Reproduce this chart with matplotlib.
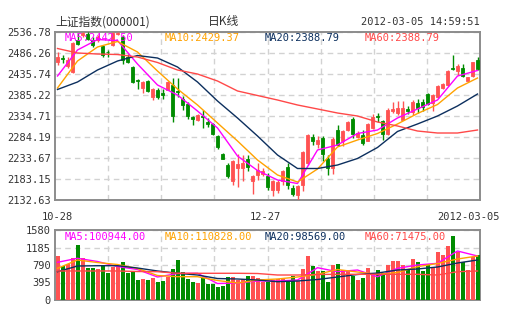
import matplotlib
matplotlib.use("Agg")
import matplotlib.pyplot as plt
import numpy as np

plt.rcParams['font.family'] = ['DejaVu Sans Mono', 'Noto Sans CJK SC']

# 日K线: 开 高 低 收 (2011-10-28 ~ 2012-03-05)
opens = [2465.3, 2473.5, 2453.8, 2441.7, 2517.5, 2529.6, 2533.0, 2517.5, 2518.7, 2501.9,
         2488.7, 2506.7, 2530.8, 2524.8, 2476.6, 2452.6, 2422.5, 2401.4, 2419.6, 2381.1,
         2397.3, 2389.3, 2398.0, 2410.0, 2394.9, 2376.3, 2363.6, 2331.6, 2325.8, 2334.0,
         2320.3, 2315.5, 2285.9, 2243.3, 2217.6, 2179.1, 2209.6, 2209.6, 2231.3, 2177.6,
         2193.5, 2195.2, 2189.7, 2157.4, 2157.4, 2177.6, 2211.3, 2161.5, 2145.4, 2169.4,
         2221.7, 2283.5, 2267.4, 2281.8, 2231.3, 2209.6, 2301.8, 2273.9, 2301.8, 2328.2,
         2284.9, 2289.0, 2275.3, 2305.1, 2335.4, 2322.0, 2291.4, 2346.0, 2341.9, 2325.8,
         2352.3, 2344.3, 2366.0, 2368.4, 2387.6, 2366.0, 2379.7, 2402.1, 2410.0, 2450.2,
         2443.7, 2450.2, 2419.6, 2430.2, 2470.1]
highs = [2489.4, 2481.4, 2477.8, 2512.7, 2535.0, 2536.0, 2536.78, 2524.8, 2529.6, 2505.5,
         2493.5, 2535.6, 2536.5, 2529.6, 2483.8, 2455.0, 2424.9, 2418.9, 2422.0, 2400.9,
         2401.4, 2399.7, 2418.9, 2426.1, 2426.1, 2382.1, 2368.4, 2334.7, 2339.5, 2349.9,
         2329.9, 2317.9, 2289.0, 2245.7, 2221.7, 2228.9, 2243.3, 2241.6, 2241.6, 2193.5,
         2221.7, 2209.6, 2197.6, 2180.8, 2181.5, 2205.5, 2221.7, 2169.4, 2168.7, 2251.2,
         2291.4, 2291.4, 2285.9, 2285.9, 2241.6, 2283.5, 2313.8, 2301.8, 2322.0, 2331.6,
         2298.6, 2301.8, 2317.9, 2339.5, 2341.9, 2325.1, 2354.0, 2368.4, 2370.1, 2371.5,
         2358.1, 2373.9, 2376.3, 2376.3, 2390.8, 2387.6, 2408.1, 2413.4, 2445.4, 2482.2,
         2459.8, 2459.8, 2429.3, 2465.3, 2475.9]
lows = [2457.4, 2461.5, 2450.2, 2438.1, 2505.5, 2524.8, 2517.0, 2500.7, 2512.7, 2476.6,
        2476.6, 2503.1, 2529.6, 2459.8, 2462.2, 2414.1, 2398.5, 2390.1, 2392.5, 2373.2,
        2374.9, 2375.6, 2396.1, 2320.3, 2381.1, 2349.9, 2328.2, 2312.4, 2322.0, 2305.9,
        2307.5, 2289.0, 2255.3, 2230.1, 2185.6, 2169.4, 2163.2, 2177.6, 2201.7, 2147.8,
        2181.5, 2190.4, 2157.4, 2141.5, 2149.5, 2169.4, 2159.8, 2141.5, 2132.63, 2154.3,
        2216.1, 2265.7, 2257.7, 2225.8, 2193.5, 2195.2, 2261.8, 2261.8, 2297.9, 2281.8,
        2281.8, 2265.7, 2273.4, 2302.3, 2321.0, 2277.7, 2289.7, 2341.9, 2336.4, 2324.0,
        2339.5, 2337.8, 2341.9, 2347.5, 2361.2, 2347.5, 2378.0, 2399.0, 2406.9, 2446.1,
        2434.1, 2427.8, 2418.9, 2429.3, 2446.1]
closes = [2477.4, 2471.1, 2470.6, 2510.3, 2509.1, 2534.4, 2520.0, 2506.7, 2523.6, 2482.6,
          2487.5, 2533.2, 2534.4, 2469.4, 2465.8, 2417.7, 2418.9, 2417.2, 2395.6, 2399.0,
          2381.1, 2385.2, 2416.5, 2334.0, 2391.3, 2360.5, 2334.0, 2328.2, 2336.4, 2332.3,
          2315.5, 2291.4, 2260.2, 2232.0, 2189.7, 2227.2, 2219.3, 2221.7, 2211.3, 2189.7,
          2205.5, 2203.1, 2163.2, 2177.6, 2175.9, 2203.1, 2169.4, 2147.1, 2165.6, 2248.1,
          2288.3, 2273.9, 2277.7, 2243.3, 2209.6, 2280.1, 2265.7, 2297.9, 2320.3, 2291.4,
          2293.1, 2269.0, 2315.5, 2333.0, 2331.6, 2291.4, 2349.9, 2352.3, 2354.0, 2354.0,
          2347.5, 2368.4, 2354.0, 2355.6, 2363.6, 2386.0, 2406.2, 2411.7, 2443.7, 2448.5,
          2454.3, 2430.2, 2427.8, 2464.6, 2448.5]
volumes = [993, 767, 812, 955, 1241, 955, 730, 730, 700, 790,
           617, 752, 752, 865, 617, 640, 451, 474, 451, 489,
           399, 436, 512, 700, 903, 640, 474, 399, 376, 489,
           354, 354, 301, 316, 527, 527, 451, 467, 542, 542,
           504, 414, 414, 451, 474, 474, 414, 549, 429, 700,
           993, 775, 655, 655, 414, 790, 812, 677, 662, 549,
           451, 504, 730, 602, 677, 602, 790, 888, 888, 790,
           677, 918, 865, 655, 812, 730, 1091, 1016, 1226, 1452,
           1091, 865, 677, 963, 1016]

# 均线 (每4根K线取一点)
ma_idx = list(range(0, 85, 4))
ma5 = [2430.9, 2493.5, 2518.7, 2516.3, 2459.8, 2409.3, 2385.2, 2346.7, 2305.9, 2238.5, 2203.6,
       2180.8, 2172.3, 2252.9, 2265.0, 2292.6, 2301.0, 2329.9, 2351.6, 2373.2, 2430.9, 2444.2]
ma10 = [2402.1, 2467.0, 2500.7, 2513.9, 2488.7, 2442.9, 2399.7, 2361.2, 2317.9, 2274.6, 2228.9,
        2192.8, 2175.9, 2207.2, 2260.2, 2277.0, 2292.6, 2315.5, 2340.7, 2362.4, 2402.1, 2426.1]
ma20 = [2398.5, 2416.5, 2445.4, 2467.0, 2480.2, 2474.2, 2452.6, 2416.5, 2370.8, 2329.9, 2286.6,
        2240.9, 2208.4, 2208.4, 2216.8, 2232.5, 2259.0, 2297.5, 2315.5, 2334.7, 2358.8, 2387.6]
ma60 = [2497.1, 2486.3, 2483.8, 2482.6, 2476.6, 2463.4, 2445.4, 2435.7, 2418.9, 2394.9, 2384.0,
        2373.2, 2361.2, 2351.6, 2341.9, 2334.7, 2320.3, 2310.7, 2298.6, 2293.8, 2293.8, 2301.0]
vma5 = [851, 941, 869, 756, 688, 519, 598, 603, 372, 384, 429, 429, 451, 729, 639, 677, 526,
        715, 790, 828, 1106, 993]
vma10 = [715, 903, 846, 801, 711, 553, 526, 526, 440, 384, 451, 474, 519, 580, 688, 632, 580,
         621, 752, 824, 925, 993]
vma20 = [639, 767, 774, 774, 722, 655, 603, 564, 485, 474, 451, 413, 429, 463, 519, 576, 609,
         677, 700, 745, 835, 903]
vma60 = [655, 655, 655, 655, 643, 639, 603, 603, 603, 603, 598, 564, 564, 576, 580, 580, 580,
         580, 580, 564, 639, 655]

price_ticks = [2132.63, 2183.15, 2233.67, 2284.19, 2334.71, 2385.22, 2435.74, 2486.26, 2536.78]
vol_ticks = [0, 395, 790, 1185, 1580]
date_labels = ["10-28", "12-27", "2012-03-05"]
date_pos = [0, 41.5, 82.3]

ma_text = ["MA5:2442.50", "MA10:2429.37", "MA20:2388.79", "MA60:2388.79"]
vma_text = ["MA5:100944.00", "MA10:110828.00", "MA20:98569.00", "MA60:71475.00"]

UP = '#ff5252'
DOWN = '#008c00'
ma_colors = ['#ff00ff', '#ffa200', '#0c2f5e', '#ff4848']

W, H = 505, 330
fig = plt.figure(figsize=(W / 100, H / 100), dpi=100)
ax = fig.add_axes([55 / W, 1 - 200 / H, 425 / W, 168 / H])
axv = fig.add_axes([55 / W, 1 - 300 / H, 425 / W, 70 / H])

x = np.arange(len(closes))
o = np.array(opens)
c = np.array(closes)
cols = [UP if cc >= oo else DOWN for oo, cc in zip(o, c)]

# K线
ax.vlines(x, lows, highs, colors=cols, linewidth=1, zorder=3)
ax.bar(x, np.abs(c - o), bottom=np.minimum(o, c), width=0.7, color=cols,
       edgecolor=cols, linewidth=0.6, zorder=4)
for vals, col in zip([ma5, ma10, ma20, ma60], ma_colors):
    ax.plot(ma_idx, vals, color=col, linewidth=1, zorder=5)

# 成交量
axv.bar(x, volumes, width=0.8, color=cols, zorder=3)
for vals, col in zip([vma5, vma10, vma20, vma60], ma_colors):
    axv.plot(ma_idx, vals, color=col, linewidth=1, zorder=5)

vgrid = [-0.5 + 85 / 8 * k for k in range(1, 8)]
for a in (ax, axv):
    a.set_xlim(-0.5, 84.5)
    a.set_xticks(vgrid)
    a.set_xticklabels([])
    a.set_axisbelow(True)
    a.grid(True, color='#d2d2d2', linestyle=(0, (4, 3)), linewidth=1)
    a.tick_params(length=0, pad=3, labelsize=7.5, labelcolor='#333333')
    for s in a.spines.values():
        s.set_color('#8c8c8c')
        s.set_linewidth(1.4)

ax.set_ylim(price_ticks[0], price_ticks[-1])
ax.set_yticks(price_ticks)
ax.set_yticklabels([f"{v:.2f}" for v in price_ticks])
axv.set_ylim(0, vol_ticks[-1])
axv.set_yticks(vol_ticks)
axv.set_yticklabels([str(v) for v in vol_ticks])

# 标题
fig.text(55 / W, 1 - 22 / H, "上证指数(000001)", fontsize=8.5, color='#333333',
         family=['Noto Sans CJK SC'], va='center')
fig.text(208 / W, 1 - 22 / H, "日K线", fontsize=8.5, color='#333333',
         family=['Noto Sans CJK SC'], va='center')
fig.text(480 / W, 1 - 22 / H, "2012-03-05 14:59:51", fontsize=7.5, color='#333333',
         ha='right', va='center')

for k, (t, col) in enumerate(zip(ma_text, ma_colors)):
    fig.text((65 + 100 * k) / W, 1 - 38 / H, t, fontsize=7.5, color=col, va='center')
for k, (t, col) in enumerate(zip(vma_text, ma_colors)):
    fig.text((65 + 100 * k) / W, 1 - 237 / H, t, fontsize=7.5, color=col, va='center')

for t, p in zip(date_labels, date_pos):
    ax.text(p, -0.1, t, transform=ax.get_xaxis_transform(), fontsize=7.5,
            color='#333333', ha='center', va='center')

fig.savefig("out.png", dpi=100, facecolor='white')
